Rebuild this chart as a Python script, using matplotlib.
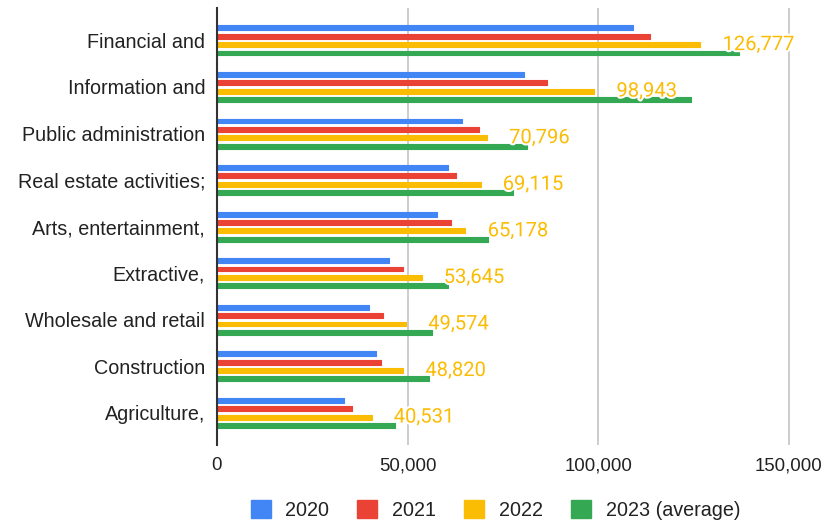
import matplotlib
matplotlib.use("Agg")
import matplotlib.pyplot as plt
import matplotlib.patheffects as pe
from matplotlib.patches import Patch
from matplotlib.ticker import FuncFormatter
import numpy as np

categories = [
    "Financial and",
    "Information and",
    "Public administration",
    "Real estate activities;",
    "Arts, entertainment,",
    "Extractive,",
    "Wholesale and retail",
    "Construction",
    "Agriculture,",
]
series_names = ["2020", "2021", "2022", "2023 (average)"]
values_2020 = [109200, 80600, 64200, 60600, 57800, 45200, 39900, 41700, 33200]
values_2021 = [113500, 86500, 68800, 62800, 61500, 48900, 43500, 43000, 35400]
values_2022 = [126777, 98943, 70796, 69115, 65178, 53645, 49574, 48820, 40531]
values_2023 = [136900, 124200, 81300, 77600, 71200, 60700, 56400, 55600, 46700]
x_ticks = [0, 50000, 100000, 150000]

colors = ["#4285f4", "#ea4335", "#fbbc04", "#34a853"]
label_font = "Liberation Sans"
value_font = "Roboto"

fig = plt.figure(figsize=(8.27, 5.21), dpi=100)
ax = fig.add_axes([217 / 827, 76 / 521, 610 / 827, (445 - 8.3) / 521])

y = np.arange(len(categories))
all_series = [values_2020, values_2021, values_2022, values_2023]
step = 0.18
bar_h = 0.105
for i, (vals, col) in enumerate(zip(all_series, colors)):
    offs = (i - 1.5) * step
    ax.barh(y + offs, vals, height=bar_h, color=col, edgecolor=col,
            linewidth=0.8, joinstyle="round", zorder=3)

# value labels for the 2022 series
for yi, v in zip(y, values_2022):
    ax.annotate(f"{v:,}", xy=(v, yi + 0.5 * step), xytext=(16, 0),
                textcoords="offset points", va="center", ha="left",
                color=colors[2], fontsize=14.5, family=value_font, zorder=5,
                path_effects=[pe.withStroke(linewidth=3, foreground="white")])

ax.set_xlim(0, 160000)
ax.set_ylim(len(categories) - 1 + 0.69, -0.69)
ax.set_xticks(x_ticks)
ax.xaxis.set_major_formatter(FuncFormatter(lambda v, p: f"{int(v):,}"))
ax.set_yticks(y)
ax.set_yticklabels(categories, va="center_baseline")

for lab in ax.get_xticklabels():
    lab.set_family(label_font)
    lab.set_fontsize(13.4)
    lab.set_color("#222222")
for lab in ax.get_yticklabels():
    lab.set_family(label_font)
    lab.set_fontsize(14.2)
    lab.set_color("#222222")

ax.tick_params(axis="both", length=0)
ax.tick_params(axis="x", pad=9)
ax.tick_params(axis="y", pad=8.5)

ax.grid(axis="x", color="#cccccc", linewidth=1.4, zorder=0)
ax.set_axisbelow(True)
for s in ["top", "right", "bottom"]:
    ax.spines[s].set_visible(False)
ax.spines["left"].set_color("#333333")
ax.spines["left"].set_linewidth(1.5)
ax.spines["left"].set_zorder(4)

handles = [Patch(facecolor=c, edgecolor=c, label=n) for c, n in zip(colors, series_names)]
leg = fig.legend(handles=handles, loc="center", bbox_to_anchor=(495.4 / 827, 1 - 510 / 521),
                 ncol=4, frameon=False, prop={"family": label_font, "size": 14.2},
                 handlelength=1.015, handleheight=1.015, handletextpad=0.745,
                 columnspacing=1.42, borderpad=0.2)
for t in leg.get_texts():
    t.set_color("#222222")

fig.savefig("out.png", dpi=100)
